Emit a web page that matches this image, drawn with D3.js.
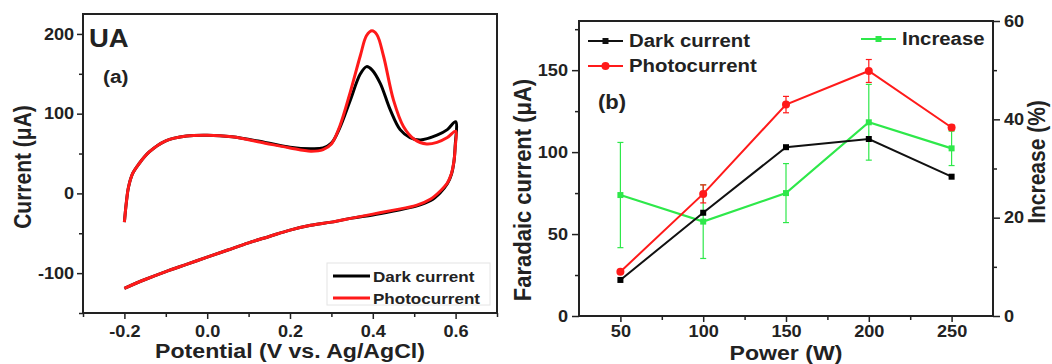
<!DOCTYPE html>
<html>
<head>
<meta charset="utf-8">
<script src="https://cdn.jsdelivr.net/npm/d3@7"></script>
<style>
  body { margin: 0; background: #fff; }
  svg { display: block; font-family: "Liberation Sans", Arial, sans-serif; font-weight: bold; }
  .tick line { stroke: #222; stroke-width: 1.5; }
  .tick text { fill: #222; }
</style>
</head>
<body>
<svg id="chart" width="1052" height="364"></svg>
<script>
// --- data: panel (a), cyclic voltammograms [potential V, current uA] ---
const darkCV = [
  [-0.200, -36], [-0.195, -10], [-0.190, 8], [-0.180, 25], [-0.165, 37], [-0.140, 52],
  [-0.100, 66], [-0.050, 72], [0.000, 73], [0.060, 71], [0.140, 64], [0.200, 58],
  [0.250, 56], [0.280, 57], [0.300, 63], [0.320, 82], [0.345, 116], [0.370, 150],
  [0.385, 159], [0.398, 155], [0.418, 138], [0.442, 105], [0.466, 80], [0.490, 70],
  [0.515, 67], [0.555, 73], [0.580, 80], [0.600, 90],
  [0.599, 60], [0.596, 40], [0.590, 24], [0.580, 12], [0.563, 1], [0.540, -9],
  [0.505, -16], [0.450, -22], [0.400, -27], [0.350, -31], [0.300, -36], [0.250, -40],
  [0.200, -46], [0.150, -54], [0.100, -62], [0.050, -71], [0.000, -80], [-0.050, -89],
  [-0.100, -98], [-0.150, -108], [-0.200, -119]
];
const photoCV = [
  [-0.200, -36], [-0.195, -10], [-0.190, 8], [-0.180, 25], [-0.165, 37], [-0.140, 52],
  [-0.100, 66], [-0.050, 72], [0.000, 73], [0.060, 71], [0.140, 63], [0.200, 57],
  [0.250, 53], [0.280, 55], [0.300, 62], [0.320, 84], [0.345, 126], [0.370, 173],
  [0.385, 198], [0.398, 204], [0.410, 199], [0.426, 172], [0.450, 117], [0.474, 84],
  [0.500, 68], [0.530, 62], [0.555, 64], [0.580, 70], [0.600, 78],
  [0.599, 58], [0.596, 40], [0.590, 25], [0.580, 13], [0.563, 3], [0.540, -7],
  [0.505, -15], [0.450, -21], [0.400, -26], [0.350, -31], [0.300, -36], [0.250, -40],
  [0.200, -46], [0.150, -54], [0.100, -62], [0.050, -71], [0.000, -80], [-0.050, -89],
  [-0.100, -98], [-0.150, -108], [-0.200, -119]
];

// --- data: panel (b) ---
const power = [50, 100, 150, 200, 250];
const darkCurrent = [22, 63, 103, 108, 85];
const photoCurrent = [27, 74.5, 129, 149.5, 115];
const photoErr = [1, 5.5, 5, 7, 1.5];
const increasePct = [24.6, 19.2, 25, 39.4, 34.1];
const increaseErr = [10.7, 7.5, 6, 7.7, 3.5];

const RED = "#ff1a1a", GREEN = "#2ee84a", INK = "#222";
const SX = 1.1; // glyphs in the figure are a little wide

const svg = d3.select("#chart");

function label(x, y, txt, size, anchor, rot) {
  return svg.append("text")
    .attr("transform", `translate(${x},${y}) scale(${SX},1)` + (rot ? " rotate(-90)" : ""))
    .attr("text-anchor", anchor || "start")
    .style("font-size", size + "px")
    .attr("fill", INK)
    .text(txt);
}

function styleAxis(g) {
  g.select(".domain").remove();
  g.selectAll("text").attr("transform", `scale(${SX},1)`);
}

function minorTicks(g, axisFn, scale, vals, len) {
  g.append("g").call(axisFn(scale).tickValues(vals).tickSize(len).tickFormat(""))
    .call(a => a.select(".domain").remove());
}

// ================= PANEL (a) =================
const xA = d3.scaleLinear([-0.3, 0.7], [83, 497]);
const yA = d3.scaleLinear([-150, 225], [313, 14]);
const gA = svg.append("g");

gA.append("g").attr("transform", "translate(0,313)")
  .call(d3.axisBottom(xA).tickValues([-0.2, 0, 0.2, 0.4, 0.6]).tickSize(6).tickPadding(6)
    .tickFormat(d => d.toFixed(1)))
  .call(styleAxis).selectAll("text").style("font-size", "16.5px");
minorTicks(gA.append("g").attr("transform", "translate(0,313)"), d3.axisBottom, xA,
  [-0.3, -0.1, 0.1, 0.3, 0.5, 0.7], 4);

gA.append("g").attr("transform", "translate(83,0)")
  .call(d3.axisLeft(yA).tickValues([-100, 0, 100, 200]).tickSize(6).tickPadding(2)
    .tickFormat(d => String(d)))
  .call(styleAxis).selectAll("text").style("font-size", "16.5px");
minorTicks(gA.append("g").attr("transform", "translate(83,0)"), d3.axisLeft, yA,
  [-150, -50, 50, 150], 4);

const lineA = d3.line().x(d => xA(d[0])).y(d => yA(d[1])).curve(d3.curveCatmullRom.alpha(0.5));
gA.append("path").datum(darkCV).attr("d", lineA)
  .attr("fill", "none").attr("stroke", "#000").attr("stroke-width", 3);
gA.append("path").datum(photoCV).attr("d", lineA)
  .attr("fill", "none").attr("stroke", RED).attr("stroke-width", 3);

gA.append("rect").attr("x", 83).attr("y", 14).attr("width", 414).attr("height", 299)
  .attr("fill", "none").attr("stroke", INK).attr("stroke-width", 2);

// legend (a)
gA.append("rect").attr("x", 327).attr("y", 263).attr("width", 163).attr("height", 42)
  .attr("fill", "none").attr("stroke", "#e4e4e4").attr("stroke-width", 1);
[["Dark current", "#000", 276], ["Photocurrent", RED, 298]].forEach(([t, c, y]) => {
  gA.append("line").attr("x1", 333).attr("x2", 370).attr("y1", y).attr("y2", y)
    .attr("stroke", c).attr("stroke-width", 3);
  label(373, y + 6, t, 15.5);
});

label(89, 47, "UA", 25);
label(103, 83, "(a)", 19);
label(290, 358, "Potential (V vs. Ag/AgCl)", 21, "middle");
label(31, 167, "Current (μA)", 21, "middle", true);

// ================= PANEL (b) =================
const xB = d3.scaleLinear([25, 275], [579, 993]);
const yB = d3.scaleLinear([0, 180], [316, 21]);
const yR = d3.scaleLinear([0, 60], [316, 21]);
const gB = svg.append("g");

gB.append("g").attr("transform", "translate(0,316)")
  .call(d3.axisBottom(xB).tickValues(power).tickSize(6).tickPadding(3))
  .call(styleAxis).selectAll("text").style("font-size", "16.5px");
minorTicks(gB.append("g").attr("transform", "translate(0,316)"), d3.axisBottom, xB,
  [75, 125, 175, 225], 4);

gB.append("g").attr("transform", "translate(579,0)")
  .call(d3.axisLeft(yB).tickValues([0, 50, 100, 150]).tickSize(7).tickPadding(3))
  .call(styleAxis).selectAll("text").style("font-size", "16.5px");
minorTicks(gB.append("g").attr("transform", "translate(579,0)"), d3.axisLeft, yB,
  [25, 75, 125, 175], 4);

gB.append("g").attr("transform", "translate(993,0)")
  .call(d3.axisRight(yR).tickValues([0, 20, 40, 60]).tickSize(7).tickPadding(3))
  .call(styleAxis).selectAll("text").style("font-size", "16.5px");
minorTicks(gB.append("g").attr("transform", "translate(993,0)"), d3.axisRight, yR,
  [10, 30, 50], 4);

function errorBars(vals, errs, y, color) {
  const g = gB.append("g").attr("stroke", color).attr("stroke-width", 1.2);
  power.forEach((p, i) => {
    const x = xB(p), y0 = y(vals[i] - errs[i]), y1 = y(vals[i] + errs[i]);
    g.append("line").attr("x1", x).attr("x2", x).attr("y1", y0).attr("y2", y1);
    g.append("line").attr("x1", x - 3).attr("x2", x + 3).attr("y1", y0).attr("y2", y0);
    g.append("line").attr("x1", x - 3).attr("x2", x + 3).attr("y1", y1).attr("y2", y1);
  });
}

function series(vals, y, color, width) {
  gB.append("path").datum(vals)
    .attr("d", d3.line().x((d, i) => xB(power[i])).y(d => y(d)))
    .attr("fill", "none").attr("stroke", color).attr("stroke-width", width);
}

function squares(vals, y, color, s) {
  gB.append("g").selectAll("rect").data(vals).join("rect")
    .attr("x", (d, i) => xB(power[i]) - s / 2).attr("y", d => y(d) - s / 2)
    .attr("width", s).attr("height", s).attr("fill", color);
}

// increase (right axis)
errorBars(increasePct, increaseErr, yR, GREEN);
series(increasePct, yR, GREEN, 2.2);
squares(increasePct, yR, GREEN, 6);

// dark current
series(darkCurrent, yB, "#111", 2);
squares(darkCurrent, yB, "#000", 6);

// photocurrent
errorBars(photoCurrent, photoErr, yB, RED);
series(photoCurrent, yB, RED, 2);
gB.append("g").selectAll("circle").data(photoCurrent).join("circle")
  .attr("cx", (d, i) => xB(power[i])).attr("cy", d => yB(d)).attr("r", 4).attr("fill", RED);

gB.append("rect").attr("x", 579).attr("y", 21).attr("width", 414).attr("height", 295)
  .attr("fill", "none").attr("stroke", INK).attr("stroke-width", 2);

// legend (b)
function legendItem(x1, x2, y, color, marker, text) {
  gB.append("line").attr("x1", x1).attr("x2", x2).attr("y1", y).attr("y2", y)
    .attr("stroke", color).attr("stroke-width", 2);
  const cx = (x1 + x2) / 2;
  if (marker === "circle") {
    gB.append("circle").attr("cx", cx).attr("cy", y).attr("r", 4).attr("fill", color);
  } else {
    gB.append("rect").attr("x", cx - 3).attr("y", y - 3).attr("width", 6).attr("height", 6).attr("fill", color);
  }
  label(x2 + 6, y + 6, text, 18.5);
}
legendItem(588, 623, 41, "#111", "square", "Dark current");
legendItem(588, 623, 66, RED, "circle", "Photocurrent");
legendItem(861, 896, 39, GREEN, "square", "Increase");

label(598, 109, "(b)", 20);
label(786, 360, "Power (W)", 21, "middle");
label(531, 190, "Faradaic current (μA)", 22, "middle", true);
label(1045, 162, "Increase (%)", 21, "middle", true);
</script>
</body>
</html>
